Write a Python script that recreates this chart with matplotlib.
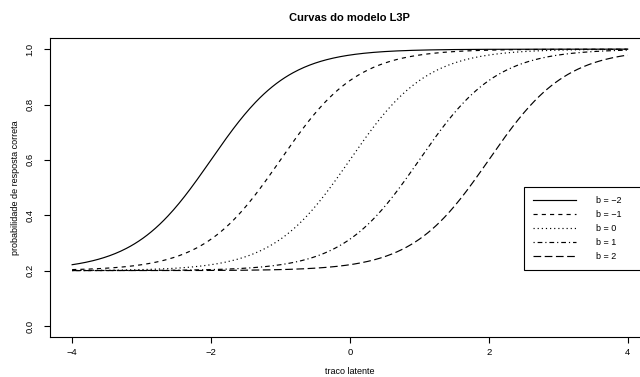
import numpy as np
import matplotlib
matplotlib.use("Agg")
import matplotlib.pyplot as plt

plt.rcParams["font.family"] = ["Liberation Sans", "DejaVu Sans"]

# parametros do modelo L3P
b_values = [-2, -1, 0, 1, 2]
a_param = 1.8
c_param = 0.2
labels = ["b = \u22122", "b = \u22121", "b = 0", "b = 1", "b = 2"]
theta = np.linspace(-4, 4, 401)

styles = [
    "-",
    (0, (3.5, 3.5)),
    (0, (1, 2.5)),
    (0, (1, 2.5, 4, 2.5)),
    (0, (6.5, 3)),
]

fig = plt.figure(figsize=(6.4, 3.77), dpi=100)
ax = fig.add_axes([0.078, 0.106, 0.9375, 0.793])

for b, ls, lab in zip(b_values, styles, labels):
    p = c_param + (1 - c_param) / (1 + np.exp(-a_param * (theta - b)))
    ax.plot(theta, p, color="black", lw=0.85, linestyle=ls, label=lab)

ax.set_xlim(-4.32, 4.32)
ax.set_ylim(-0.04, 1.04)
ax.set_xticks([-4, -2, 0, 2, 4])
ax.set_xticklabels(["\u22124", "\u22122", "0", "2", "4"])
ax.set_yticks([0.0, 0.2, 0.4, 0.6, 0.8, 1.0])
ax.set_yticklabels(["0.0", "0.2", "0.4", "0.6", "0.8", "1.0"], rotation=90, va="center")
ax.tick_params(direction="out", length=4, width=0.8, labelsize=6.8)
ax.tick_params(axis="x", pad=4)
ax.tick_params(axis="y", pad=7)

for s in ax.spines.values():
    s.set_linewidth(0.8)

ax.set_xlabel("traco latente", fontsize=6.5, labelpad=7)
ax.set_ylabel("probabilidade de resposta correta", fontsize=6.5, labelpad=4)
ax.set_title("Curvas do modelo L3P", fontsize=8, fontweight="bold", pad=12)

leg = ax.legend(
    loc="upper left",
    bbox_to_anchor=(0.79, 0.224, 0.26, 0.278),
    mode="expand",
    fontsize=6.5,
    handlelength=4.8,
    handletextpad=2.2,
    labelspacing=0.55,
    borderaxespad=0,
    borderpad=1.0,
    fancybox=False,
    framealpha=1,
    edgecolor="black",
)
leg.get_frame().set_linewidth(0.8)

fig.savefig("out.png", dpi=100)
